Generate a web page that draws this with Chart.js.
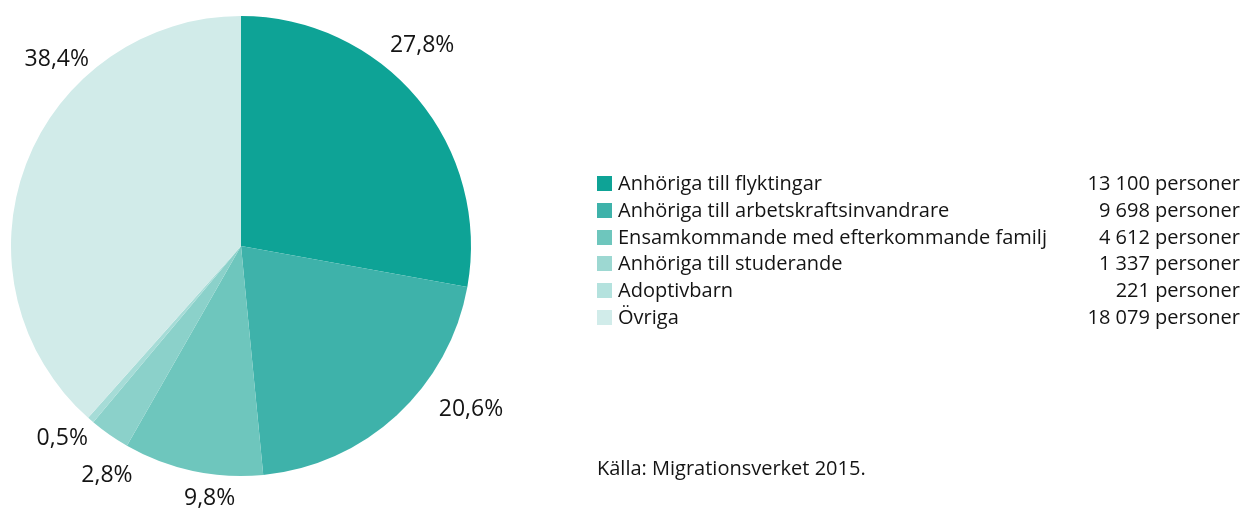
<!DOCTYPE html>
<html>
<head>
<meta charset="utf-8">
<script src="https://cdn.jsdelivr.net/npm/chart.js@4"></script>
<style>
  html, body { margin: 0; padding: 0; background: #fff; }
  body { width: 1242px; height: 509px; position: relative; overflow: hidden; font-family: "Open Sans", Lato, sans-serif; color: #141414; }
  #pieWrap { position: absolute; left: 0; top: 0; width: 1242px; height: 509px; }
  #legend { position: absolute; left: 597px; top: 170px; width: 643px; font-size: 20px; }
  .row { position: relative; height: 26.8px; line-height: 26.8px; }
  .sw { position: absolute; left: 0; top: 6px; width: 15px; height: 15px; }
  .lab { position: absolute; left: 21px; top: 0; white-space: nowrap; }
  .val { position: absolute; right: 0; top: 0; white-space: nowrap; }
  #src { position: absolute; left: 597px; top: 454px; font-size: 20px; line-height: 27px; white-space: nowrap; }
</style>
</head>
<body>
<div id="pieWrap"><canvas id="c"></canvas></div>
<div id="legend"></div>
<div id="src">Källa: Migrationsverket 2015.</div>
<script>
const categories = ["Anhöriga till flyktingar", "Anhöriga till arbetskraftsinvandrare", "Ensamkommande med efterkommande familj", "Anhöriga till studerande", "Adoptivbarn", "Övriga"];
const persons = [13100, 9698, 4612, 1337, 221, 18079];
const percentLabels = ["27,8%", "20,6%", "9,8%", "2,8%", "0,5%", "38,4%"];
const sliceColors = ["#0ea396", "#3eb2aa", "#6ec6bd", "#8bd1ca", "#a6dcd7", "#d1ebe9"];
const legendColors = ["#0ea396", "#3eb2aa", "#6ec6bd", "#9dd8d2", "#b4e2de", "#d1ecea"];
const valueLabels = ["13 100 personer", "9 698 personer", "4 612 personer", "1 337 personer", "221 personer", "18 079 personer"];

// label placement tweaks (degrees shift from mid-angle, pixel distance outside the arc)
const labelAngleShift = [-8, -12, -5, -4.6, 2, 24.5];
const labelOffset = [40, 52, 24, 36, 33, 32];

const legend = document.getElementById('legend');
categories.forEach((c, i) => {
  const r = document.createElement('div'); r.className = 'row';
  r.innerHTML = '<span class="sw" style="background:' + legendColors[i] + '"></span><span class="lab">' + c + '</span><span class="val">' + valueLabels[i] + '</span>';
  legend.appendChild(r);
});

const labelPlugin = {
  id: 'pctLabels',
  afterDatasetsDraw(chart) {
    const ctx = chart.ctx;
    const meta = chart.getDatasetMeta(0);
    ctx.save();
    ctx.font = '23px "Open Sans", Lato, sans-serif';
    ctx.fillStyle = '#141414';
    ctx.textAlign = 'center';
    ctx.textBaseline = 'middle';
    meta.data.forEach((arc, i) => {
      const p = arc.getProps(['x', 'y', 'startAngle', 'endAngle', 'outerRadius'], true);
      const a = (p.startAngle + p.endAngle) / 2 + labelAngleShift[i] * Math.PI / 180;
      const r = p.outerRadius + labelOffset[i];
      ctx.fillText(percentLabels[i], p.x + r * Math.cos(a), p.y + r * Math.sin(a));
    });
    ctx.restore();
  }
};

new Chart(document.getElementById('c'), {
  type: 'pie',
  data: {
    labels: categories,
    datasets: [{ data: persons, backgroundColor: sliceColors, borderWidth: 0 }]
  },
  options: {
    responsive: true,
    maintainAspectRatio: false,
    animation: false,
    layout: { padding: { left: 11, right: 771, top: 16, bottom: 33 } },
    plugins: { legend: { display: false }, tooltip: { enabled: false } }
  },
  plugins: [labelPlugin]
});
</script>
</body>
</html>
